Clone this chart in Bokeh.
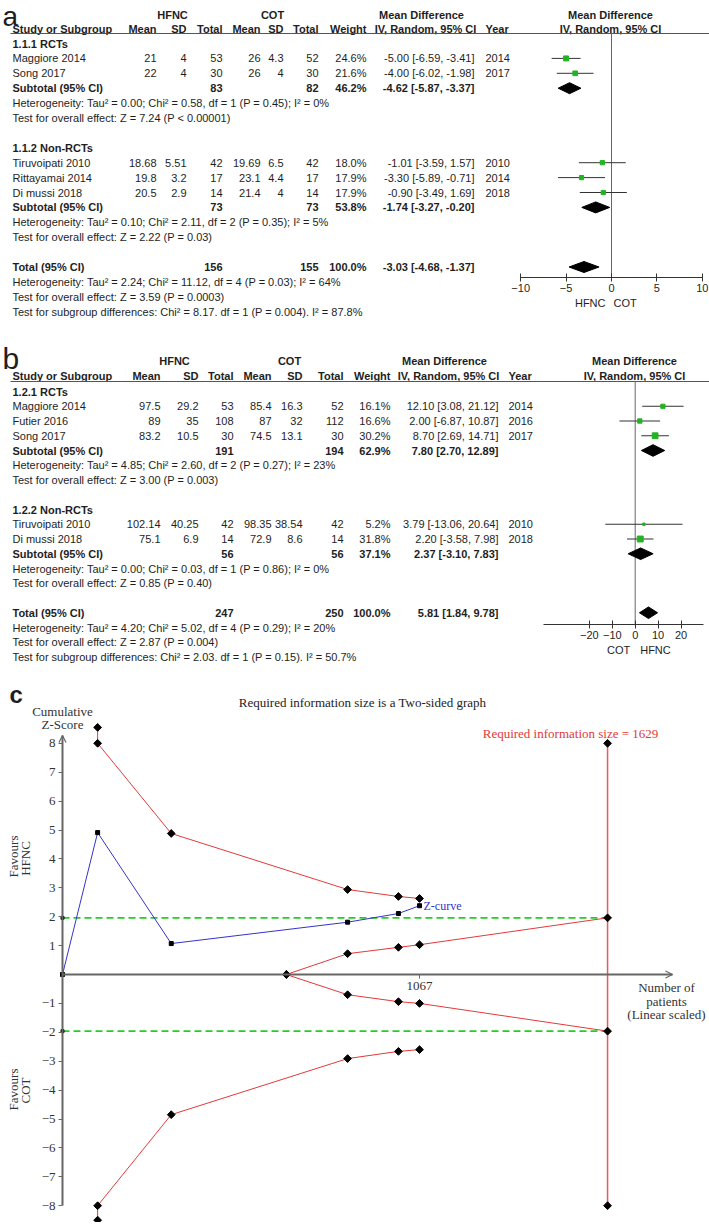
import math
from bokeh.plotting import figure
from bokeh.models import Range1d, LinearAxis, FixedTicker, Arrow, OpenHead
from bokeh.layouts import column
from bokeh.core.properties import value
from bokeh.embed import file_html
from bokeh.resources import INLINE

# ---------------- Panel a data ----------------
a_groups = ["1.1.1 RCTs", "1.1.2 Non-RCTs"]
a_group_sizes = [2, 3]
a_study = ["Maggiore 2014", "Song 2017", "Tiruvoipati 2010", "Rittayamai 2014", "Di mussi 2018"]
a_hfnc_mean = [21, 22, 18.68, 19.8, 20.5]
a_hfnc_sd = [4, 4, 5.51, 3.2, 2.9]
a_hfnc_n = [53, 30, 42, 17, 14]
a_cot_mean = [26, 26, 19.69, 23.1, 21.4]
a_cot_sd = [4.3, 4, 6.5, 4.4, 4]
a_cot_n = [52, 30, 42, 17, 14]
a_weight = [24.6, 21.6, 18.0, 17.9, 17.9]
a_md = [-5.00, -4.00, -1.01, -3.30, -0.90]
a_lo = [-6.59, -6.02, -3.59, -5.89, -3.49]
a_hi = [-3.41, -1.98, 1.57, -0.71, 1.69]
a_year = [2014, 2017, 2010, 2014, 2018]
a_sub_hfnc_n = [83, 73]
a_sub_cot_n = [82, 73]
a_sub_weight = [46.2, 53.8]
a_sub_md = [-4.62, -1.74]
a_sub_lo = [-5.87, -3.27]
a_sub_hi = [-3.37, -0.20]
a_sub_het = ["Heterogeneity: Tau\u00b2 = 0.00; Chi\u00b2 = 0.58, df = 1 (P = 0.45); I\u00b2 = 0%",
             "Heterogeneity: Tau\u00b2 = 0.10; Chi\u00b2 = 2.11, df = 2 (P = 0.35); I\u00b2 = 5%"]
a_sub_test = ["Test for overall effect: Z = 7.24 (P < 0.00001)",
              "Test for overall effect: Z = 2.22 (P = 0.03)"]
a_tot_n = [156, 155]
a_tot_weight = 100.0
a_tot_md = [-3.03]
a_tot_lo = [-4.68]
a_tot_hi = [-1.37]
a_tot_het = "Heterogeneity: Tau\u00b2 = 2.24; Chi\u00b2 = 11.12, df = 4 (P = 0.03); I\u00b2 = 64%"
a_tot_test = "Test for overall effect: Z = 3.59 (P = 0.0003)"
a_subgroup = "Test for subgroup differences: Chi\u00b2 = 8.17. df = 1 (P = 0.004). I\u00b2 = 87.8%"
a_ticks = [-10, -5, 0, 5, 10]
a_favours = ["HFNC", "COT"]

# ---------------- Panel b data ----------------
b_groups = ["1.2.1 RCTs", "1.2.2 Non-RCTs"]
b_group_sizes = [3, 2]
b_study = ["Maggiore 2014", "Futier 2016", "Song 2017", "Tiruvoipati 2010", "Di mussi 2018"]
b_hfnc_mean = [97.5, 89, 83.2, 102.14, 75.1]
b_hfnc_sd = [29.2, 35, 10.5, 40.25, 6.9]
b_hfnc_n = [53, 108, 30, 42, 14]
b_cot_mean = [85.4, 87, 74.5, 98.35, 72.9]
b_cot_sd = [16.3, 32, 13.1, 38.54, 8.6]
b_cot_n = [52, 112, 30, 42, 14]
b_weight = [16.1, 16.6, 30.2, 5.2, 31.8]
b_md = [12.10, 2.00, 8.70, 3.79, 2.20]
b_lo = [3.08, -6.87, 2.69, -13.06, -3.58]
b_hi = [21.12, 10.87, 14.71, 20.64, 7.98]
b_year = [2014, 2016, 2017, 2010, 2018]
b_sub_hfnc_n = [191, 56]
b_sub_cot_n = [194, 56]
b_sub_weight = [62.9, 37.1]
b_sub_md = [7.80, 2.37]
b_sub_lo = [2.70, -3.10]
b_sub_hi = [12.89, 7.83]
b_sub_het = ["Heterogeneity: Tau\u00b2 = 4.85; Chi\u00b2 = 2.60, df = 2 (P = 0.27); I\u00b2 = 23%",
             "Heterogeneity: Tau\u00b2 = 0.00; Chi\u00b2 = 0.03, df = 1 (P = 0.86); I\u00b2 = 0%"]
b_sub_test = ["Test for overall effect: Z = 3.00 (P = 0.003)",
              "Test for overall effect: Z = 0.85 (P = 0.40)"]
b_tot_n = [247, 250]
b_tot_weight = 100.0
b_tot_md = [5.81]
b_tot_lo = [1.84]
b_tot_hi = [9.78]
b_tot_het = "Heterogeneity: Tau\u00b2 = 4.20; Chi\u00b2 = 5.02, df = 4 (P = 0.29); I\u00b2 = 20%"
b_tot_test = "Test for overall effect: Z = 2.87 (P = 0.004)"
b_subgroup = "Test for subgroup differences: Chi\u00b2 = 2.03. df = 1 (P = 0.15). I\u00b2 = 50.7%"
b_ticks = [-20, -10, 0, 10, 20]
b_favours = ["COT", "HFNC"]

# ---------------- Panel c data (trial sequential analysis) ----------------
c_z_n = [0, 105, 325, 852, 1004, 1067]
c_z = [0, 4.91, 1.07, 1.81, 2.11, 2.38]
c_up_n = [105, 105, 325, 852, 1004, 1067]
c_up = [8.55, 8.0, 4.88, 2.94, 2.70, 2.63]
c_low_n = [105, 105, 325, 852, 1004, 1067]
c_low = [-8.5, -8.0, -4.85, -2.91, -2.66, -2.60]
c_fut_n = [669, 852, 1004, 1067, 1629]
c_fut_up = [0, 0.72, 0.94, 1.03, 1.96]
c_fut_low = [0, -0.70, -0.94, -1.00, -1.96]
c_ris = 1629
c_conv = 1.96
c_zmax = 8
c_yticks = [-8, -7, -6, -5, -4, -3, -2, -1, 1, 2, 3, 4, 5, 6, 7, 8]

# ---------------- styling ----------------
SANS = value("Liberation Sans")
SERIF = value("Liberation Serif")
TXT = "#1e1e1e"
GREEN = "#22b322"
PAGE_L, PAGE_R = 0, 709


def put(p, xs, ys, texts, align="left", bold=False, size="11px", color=TXT, font=SANS,
        angle=0, x_range_name="default", baseline="middle", x_offset=0):
    n = len(texts)
    if not isinstance(xs, list):
        xs = [xs] * n
    if not isinstance(ys, list):
        ys = [ys] * n
    p.text(x=xs, y=ys, text=texts, text_align=align, text_baseline=baseline,
           text_font=font, text_font_size=size, text_color=color,
           text_font_style="bold" if bold else "normal", angle=angle,
           x_range_name=x_range_name, x_offset=x_offset)


def new_panel(top, bottom):
    return figure(width=PAGE_R - PAGE_L, height=int(bottom - top),
                  x_range=Range1d(PAGE_L, PAGE_R), y_range=Range1d(bottom, top),
                  x_axis_type=None, y_axis_type=None, output_backend="svg",
                  toolbar_location=None, min_border=0, outline_line_color=None)


def draw_forest_panel(p, D, L):
    Y = lambda k: L["y0"] + k * L["pitch"]
    C = L["cols"]
    k = 0
    group_k, study_k, sub_k, het_k, test_k = [], [], [], [], []
    for size in D["group_sizes"]:
        group_k.append(k); k += 1
        for _ in range(size):
            study_k.append(k); k += 1
        sub_k.append(k); het_k.append(k + 1); test_k.append(k + 2)
        k += 4
    tot_k = k

    # headers
    put(p, [L["hfnc_c"], L["cot_c"], L["md_c"], L["fp_c"]], L["h1"],
        ["HFNC", "COT", "Mean Difference", "Mean Difference"], align="center", bold=True)
    put(p, C["name"], L["h2"], ["Study or Subgroup"], bold=True)
    put(p, [C["hm"], C["hs"], C["hn"], C["cm"], C["cs"], C["cn"], C["w"]], L["h2"],
        ["Mean", "SD", "Total", "Mean", "SD", "Total", "Weight"], align="right", bold=True)
    put(p, [L["iv_c"], L["fp_c"]], L["h2"], ["IV, Random, 95% CI"] * 2, align="center", bold=True)
    put(p, C["yr"], L["h2"], ["Year"], bold=True)
    p.segment(x0=[L["rule_x0"]], x1=[PAGE_R + 8], y0=[L["rule_y"]], y1=[L["rule_y"]],
              line_color="#555555", line_width=1)

    # groups and studies
    put(p, C["name"], [Y(g) for g in group_k], D["groups"], bold=True)
    sy = [Y(s) for s in study_k]
    put(p, C["name"], sy, D["study"])
    for key, col in [("hfnc_mean", "hm"), ("hfnc_sd", "hs"), ("hfnc_n", "hn"),
                     ("cot_mean", "cm"), ("cot_sd", "cs"), ("cot_n", "cn")]:
        put(p, C[col], sy, [format(v, "g") for v in D[key]], align="right")
    put(p, C["w"], sy, [f"{w:.1f}%" for w in D["weight"]], align="right")
    put(p, C["ci"], sy, [f"{m:.2f} [{l:.2f}, {h:.2f}]" for m, l, h in zip(D["md"], D["lo"], D["hi"])],
        align="right")
    put(p, C["yr"], sy, [str(y) for y in D["year"]])

    # subtotals
    suby = [Y(s) for s in sub_k]
    put(p, C["name"], suby, ["Subtotal (95% CI)"] * len(suby), bold=True)
    put(p, C["hn"], suby, [str(v) for v in D["sub_hfnc_n"]], align="right", bold=True)
    put(p, C["cn"], suby, [str(v) for v in D["sub_cot_n"]], align="right", bold=True)
    put(p, C["w"], suby, [f"{w:.1f}%" for w in D["sub_weight"]], align="right", bold=True)
    put(p, C["ci"], suby, [f"{m:.2f} [{l:.2f}, {h:.2f}]" for m, l, h in
                           zip(D["sub_md"], D["sub_lo"], D["sub_hi"])], align="right", bold=True)
    put(p, C["name"], [Y(h) for h in het_k], D["sub_het"])
    put(p, C["name"], [Y(t) for t in test_k], D["sub_test"])

    # total
    ty = Y(tot_k)
    put(p, C["name"], ty, ["Total (95% CI)"], bold=True)
    put(p, [C["hn"], C["cn"]], ty, [str(v) for v in D["tot_n"]], align="right", bold=True)
    put(p, C["w"], ty, [f"{D['tot_weight']:.1f}%"], align="right", bold=True)
    put(p, C["ci"], ty, [f"{m:.2f} [{l:.2f}, {h:.2f}]" for m, l, h in
                         zip(D["tot_md"], D["tot_lo"], D["tot_hi"])], align="right", bold=True)
    put(p, C["name"], [Y(tot_k + 1), Y(tot_k + 2), Y(tot_k + 3)],
        [D["tot_het"], D["tot_test"], D["subgroup"]])

    # forest plot on its own scale
    z0, ppu = L["zero_px"], L["ppu"]
    p.extra_x_ranges = {"md": Range1d((PAGE_L - z0) / ppu, (PAGE_R - z0) / ppu)}
    p.segment(x0=[0], x1=[0], y0=[L["rule_y"]], y1=[L["axis_y"]], line_color="#666666",
              line_width=1, x_range_name="md")
    p.segment(x0=D["lo"], x1=D["hi"], y0=sy, y1=sy, line_color="#333333", line_width=1,
              x_range_name="md")
    p.scatter(x=D["md"], y=sy, size=[L["sq"] * math.sqrt(w) for w in D["weight"]], marker="square",
              fill_color=GREEN, line_color=GREEN, x_range_name="md")
    dy = [Y(s) for s in sub_k] + [ty]
    dm = D["sub_md"] + D["tot_md"]
    dl = D["sub_lo"] + D["tot_lo"]
    dh = D["sub_hi"] + D["tot_hi"]
    hh = L["dia_h"]
    p.patches(xs=[[l, m, h, m] for m, l, h in zip(dm, dl, dh)],
              ys=[[y, y - hh, y, y + hh] for y in dy],
              fill_color="black", line_color="black", x_range_name="md")
    ax = LinearAxis(x_range_name="md", fixed_location=L["axis_y"],
                    ticker=FixedTicker(ticks=D["ticks"]), bounds=L["axis_bounds"])
    ax.axis_line_color = "#333333"
    ax.major_tick_line_color = "#333333"
    ax.major_tick_in = 4
    ax.major_tick_out = 4
    ax.minor_tick_in = 0
    ax.minor_tick_out = 0
    ax.major_label_standoff = 2
    ax.major_label_text_font = "Liberation Sans"
    ax.major_label_text_font_size = "11px"
    ax.major_label_text_color = TXT
    p.add_layout(ax, "below")
    put(p, 0, L["fav_y"], [D["favours"][0]], align="right", x_range_name="md", x_offset=L["fav_off"][0])
    put(p, 0, L["fav_y"], [D["favours"][1]], align="left", x_range_name="md", x_offset=L["fav_off"][1])


A = dict(groups=a_groups, group_sizes=a_group_sizes, study=a_study, hfnc_mean=a_hfnc_mean,
         hfnc_sd=a_hfnc_sd, hfnc_n=a_hfnc_n, cot_mean=a_cot_mean, cot_sd=a_cot_sd, cot_n=a_cot_n,
         weight=a_weight, md=a_md, lo=a_lo, hi=a_hi, year=a_year, sub_hfnc_n=a_sub_hfnc_n,
         sub_cot_n=a_sub_cot_n, sub_weight=a_sub_weight, sub_md=a_sub_md, sub_lo=a_sub_lo,
         sub_hi=a_sub_hi, sub_het=a_sub_het, sub_test=a_sub_test, tot_n=a_tot_n,
         tot_weight=a_tot_weight, tot_md=a_tot_md, tot_lo=a_tot_lo, tot_hi=a_tot_hi,
         tot_het=a_tot_het, tot_test=a_tot_test, subgroup=a_subgroup, ticks=a_ticks,
         favours=a_favours)
B = dict(groups=b_groups, group_sizes=b_group_sizes, study=b_study, hfnc_mean=b_hfnc_mean,
         hfnc_sd=b_hfnc_sd, hfnc_n=b_hfnc_n, cot_mean=b_cot_mean, cot_sd=b_cot_sd, cot_n=b_cot_n,
         weight=b_weight, md=b_md, lo=b_lo, hi=b_hi, year=b_year, sub_hfnc_n=b_sub_hfnc_n,
         sub_cot_n=b_sub_cot_n, sub_weight=b_sub_weight, sub_md=b_sub_md, sub_lo=b_sub_lo,
         sub_hi=b_sub_hi, sub_het=b_sub_het, sub_test=b_sub_test, tot_n=b_tot_n,
         tot_weight=b_tot_weight, tot_md=b_tot_md, tot_lo=b_tot_lo, tot_hi=b_tot_hi,
         tot_het=b_tot_het, tot_test=b_tot_test, subgroup=b_subgroup, ticks=b_ticks,
         favours=b_favours)

LA = dict(y0=43, pitch=14.9, h1=14, h2=28, rule_y=33, rule_x0=10,
          cols=dict(name=12, hm=156, hs=186, hn=222, cm=260, cs=283, cn=318, w=366, ci=474, yr=485),
          hfnc_c=172, cot_c=272, md_c=421, iv_c=425, fp_c=610,
          zero_px=611, ppu=9.08, axis_y=277, axis_bounds=(-10, 10), fav_y=302, fav_off=(-6, 2),
          sq=1.0, dia_h=5.5)
LB = dict(y0=391, pitch=14.75, h1=360, h2=375, rule_y=381, rule_x0=10,
          cols=dict(name=12, hm=160, hs=198, hn=233, cm=271, cs=302, cn=343, w=390, ci=498, yr=508),
          hfnc_c=174, cot_c=289, md_c=444, iv_c=448, fp_c=634,
          zero_px=634.7, ppu=2.29, axis_y=624, axis_bounds=(-40, 30), fav_y=649, fav_off=(-5, 5),
          sq=1.05, dia_h=5.8)

pa = new_panel(0, 320)
put(pa, 2, 16, ["a"], size="28px", baseline="alphabetic")
draw_forest_panel(pa, A, LA)

pb = new_panel(320, 665)
put(pb, 2, 358, ["b"], size="30px", baseline="alphabetic")
draw_forest_panel(pb, B, LB)

# ---------------- Panel c ----------------
X0, KX = 62, 0.3346   # page px of 0 patients, px per patient
Y0, KY = 974, 28.9    # page px of z = 0, px per z unit
C_TOP, C_BOT = 665, 1222
nx = lambda px: (px - X0) / KX
zy = lambda py: (Y0 - py) / KY

pc = figure(width=PAGE_R - PAGE_L, height=C_BOT - C_TOP,
            x_range=Range1d(nx(PAGE_L), nx(PAGE_R)), y_range=Range1d(zy(C_BOT), zy(C_TOP)),
            x_axis_type=None, y_axis_type=None, output_backend="svg",
            toolbar_location=None, min_border=0, outline_line_color=None)

RED = "#e23a3a"
BLUE = "#3434c8"
AXC = "#666666"
DIA = 5.5

x_tip = nx(672)
y_tip = zy(735)
yax = LinearAxis(fixed_location=0, ticker=FixedTicker(ticks=c_yticks), bounds=(-c_zmax, y_tip))
xax = LinearAxis(fixed_location=0, ticker=FixedTicker(ticks=[c_z_n[-1]]), bounds=(0, x_tip))
for ax in (yax, xax):
    ax.axis_line_color = AXC
    ax.axis_line_width = 2
    ax.major_tick_line_color = AXC
    ax.major_tick_in = 0
    ax.major_tick_out = 4
    ax.minor_tick_in = 0
    ax.minor_tick_out = 0
    ax.major_label_standoff = 3
    ax.major_label_text_font = "Liberation Serif"
    ax.major_label_text_font_size = "13px"
    ax.major_label_text_color = "#333333"
pc.add_layout(yax, "left")
pc.add_layout(xax, "below")
pc.add_layout(Arrow(end=OpenHead(size=7, line_color=AXC, line_width=1.2),
                    x_start=0, y_start=y_tip - 0.3, x_end=0, y_end=y_tip,
                    line_color=AXC, line_width=1))
pc.add_layout(Arrow(end=OpenHead(size=7, line_color=AXC, line_width=1.2),
                    x_start=x_tip - 20, y_start=0, x_end=x_tip, y_end=0,
                    line_color=AXC, line_width=1))

# conventional boundaries
pc.segment(x0=[0, 0], x1=[c_ris, c_ris], y0=[c_conv, -c_conv], y1=[c_conv, -c_conv],
           line_color="#22d022", line_width=1.6, line_dash="7 4")
pc.scatter(x=[0, 0], y=[c_conv, -c_conv], marker="square", size=3, color="black")
# required information size
pc.segment(x0=[c_ris], x1=[c_ris], y0=[-c_zmax], y1=[c_zmax], line_color="#e8585f", line_width=1.5)
pc.scatter(x=[c_ris] * 2, y=[c_zmax, -c_zmax], marker="square", angle=math.pi / 4,
           size=DIA, color="black")
# monitoring boundaries
for xs, ys in [(c_up_n, c_up), (c_low_n, c_low), (c_fut_n, c_fut_up), (c_fut_n, c_fut_low)]:
    pc.line(x=xs, y=ys, line_color=RED, line_width=1)
    pc.scatter(x=xs, y=ys, marker="square", angle=math.pi / 4, size=DIA, color="black")
# Z-curve
pc.line(x=c_z_n, y=c_z, line_color=BLUE, line_width=1)
pc.scatter(x=c_z_n, y=c_z, marker="square", size=4, color="black")

put(pc, c_z_n[-1], c_z[-1], ["Z-curve"], size="12px", color=BLUE, font=SERIF, x_offset=4)
put(pc, nx(570), zy(733), [f"Required information size = {c_ris}"], align="center",
    size="13px", color=RED, font=SERIF)
put(pc, nx(362), zy(702), ["Required information size is a Two-sided graph"], align="center",
    size="13px", color="#222222", font=SERIF)
put(pc, 0, [zy(711), zy(724)], ["Cumulative", "Z-Score"], align="center", size="13px",
    color="#333333", font=SERIF)
put(pc, [nx(13), nx(25)], [zy(856), zy(858)], ["Favours", "HFNC"], align="center", size="13px",
    color="#333333", font=SERIF, angle=math.pi / 2)
put(pc, [nx(13), nx(25)], [zy(1089), zy(1090)], ["Favours", "COT"], align="center", size="13px",
    color="#333333", font=SERIF, angle=math.pi / 2)
put(pc, nx(666), [zy(987), zy(1001), zy(1014)], ["Number of", "patients", "(Linear scaled)"],
    align="center", size="13px", color="#333333", font=SERIF)
put(pc, nx(9), zy(694), ["c"], size="24px", bold=True)

layout = column(pa, pb, pc, spacing=0)
open("out.html", "w").write(file_html(layout, INLINE))
